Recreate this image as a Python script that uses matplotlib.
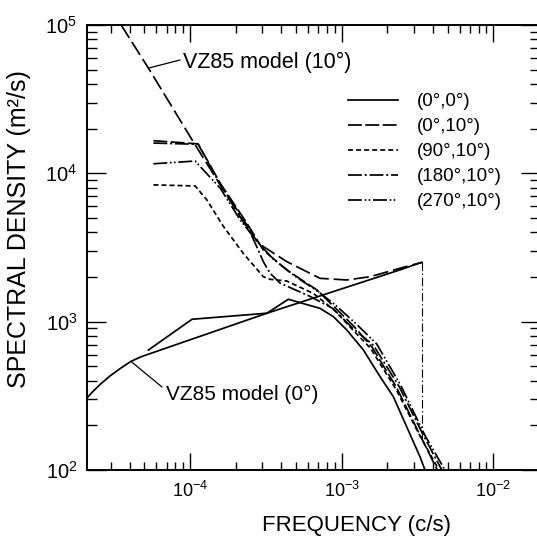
import matplotlib
matplotlib.use('Agg')
import matplotlib.pyplot as plt
from matplotlib.ticker import LogLocator, NullFormatter, LogFormatterSciNotation
from matplotlib.lines import Line2D

plt.rcParams['font.family'] = ['Liberation Sans', 'DejaVu Sans']
plt.rcParams['mathtext.fontset'] = 'custom'
plt.rcParams['mathtext.rm'] = 'Liberation Sans'
plt.rcParams['mathtext.it'] = 'Liberation Sans:italic'
plt.rcParams['mathtext.bf'] = 'Liberation Sans:bold'
plt.rcParams['mathtext.default'] = 'regular'
plt.rcParams['lines.scale_dashes'] = False

# ---------------- data ----------------
# VZ85 model, 10 degrees
model10_f = [3.51e-5, 5.31e-5, 1.07e-4, 2.24e-4, 2.75e-4, 3.04e-4, 4.34e-4, 7.19e-4, 1.08e-3, 1.54e-3, 2.42e-3, 3.37e-3]
model10_S = [1.0e5, 5.12e4, 1.58e4, 4.72e3, 3.51e3, 3.21e3, 2.54e3, 1.96e3, 1.91e3, 2.01e3, 2.29e3, 2.51e3]
# VZ85 model, 0 degrees
model0_f = [2.08e-5, 2.29e-5, 2.57e-5, 2.95e-5, 3.47e-5, 4.07e-5, 4.79e-5, 3.21e-4, 2.42e-3, 3.37e-3]
model0_S = [304, 339, 380, 429, 484, 540, 582, 1140, 2234, 2512]
# high-frequency cutoff of the models
cutoff_f = [3.37e-3, 3.37e-3]
cutoff_S = [2512, 160]

# measured spectra
s00_f = [5.31e-5, 1.03e-4, 3.21e-4, 4.45e-4, 5.31e-4, 7.19e-4, 8.81e-4, 1.08e-3, 1.39e-3, 1.79e-3, 2.19e-3, 3.28e-3, 3.54e-3]
s00_S = [644, 1038, 1140, 1416, 1343, 1230, 1081, 879, 644, 426, 312, 123, 100]

s010_f = [5.73e-5, 1.13e-4, 1.58e-4, 2.37e-4, 3.04e-4, 4.34e-4, 6.84e-4, 8.91e-4, 1.2e-3, 1.58e-3, 2.29e-3, 3.16e-3, 4.27e-3]
s010_S = [1.66e4, 1.58e4, 8.57e3, 4.61e3, 3.04e3, 2.23e3, 1.64e3, 1.26e3, 933, 676, 363, 186, 100]

s9010_f = [5.73e-5, 1.08e-4, 1.29e-4, 1.66e-4, 2.24e-4, 3.04e-4, 3.37e-4, 4.34e-4, 6.5e-4, 8.91e-4, 1.17e-3, 1.55e-3, 2.29e-3, 3.24e-3, 4.37e-3]
s9010_S = [8.36e3, 8.22e3, 6.62e3, 4.38e3, 2.89e3, 2.01e3, 1.93e3, 1.88e3, 1.55e3, 1.2e3, 891, 661, 347, 174, 100]

s18010_f = [5.73e-5, 1.13e-4, 1.58e-4, 2.34e-4, 2.75e-4, 3.04e-4, 3.37e-4, 3.92e-4, 6.18e-4, 8.71e-4, 1.17e-3, 1.62e-3, 2.4e-3, 3.39e-3, 4.57e-3]
s18010_S = [1.6e4, 1.57e4, 8.41e3, 4.57e3, 3.21e3, 2.54e3, 2.12e3, 1.82e3, 1.48e3, 1.23e3, 912, 692, 363, 178, 100]

s27010_f = [5.73e-5, 1.08e-4, 1.58e-4, 2.14e-4, 2.82e-4, 3.55e-4, 5.01e-4, 7.08e-4, 9.12e-4, 1.26e-3, 1.7e-3, 2.45e-3, 3.55e-3, 4.79e-3]
s27010_S = [1.16e4, 1.21e4, 7.94e3, 4.85e3, 3.39e3, 2.63e3, 2.0e3, 1.58e3, 1.29e3, 955, 708, 372, 170, 100]

legend_labels = ['(0°,0°)', '(0°,10°)', '(90°,10°)', '(180°,10°)', '(270°,10°)']

# ---------------- styles ----------------
LW = 1.25
st_solid = dict(color='black', lw=LW, linestyle='-')
st_long = dict(color='black', lw=LW, linestyle=(0, (10, 2.5)))
st_short = dict(color='black', lw=LW, linestyle=(0, (3.6, 2.2)))
st_dashdot = dict(color='black', lw=LW, linestyle=(0, (10, 2, 1.5, 2)))
st_dashdotdot = dict(color='black', lw=LW, linestyle=(0, (10, 2, 1.2, 1.6, 1.2, 2)))
st_model10 = dict(color='black', lw=LW, linestyle=(0, (11, 3.5)))

W, H = 537, 541
fig = plt.figure(figsize=(W / 100, H / 100), dpi=100)
ax = fig.add_axes([87 / W, (H - 470) / H, 453 / W, 445 / H])

ax.set_xscale('log')
ax.set_yscale('log')
ax.set_xlim(2.09e-5, 2.03e-2)
ax.set_ylim(1e2, 1e5)

# models
ax.plot(model10_f, model10_S, **st_model10)
ax.plot(model0_f, model0_S, **st_solid)
ax.plot(cutoff_f, cutoff_S, color='black', lw=0.8, linestyle=(0, (6, 2, 1, 2)))

# measured spectra
ax.plot(s00_f, s00_S, **st_solid)
ax.plot(s010_f, s010_S, **st_long)
ax.plot(s9010_f, s9010_S, **st_short)
ax.plot(s18010_f, s18010_S, **st_dashdot)
ax.plot(s27010_f, s27010_S, **st_dashdotdot)

# legend
handles = [Line2D([], [], **s) for s in (st_solid, st_long, st_short, st_dashdot, st_dashdotdot)]
leg = ax.legend(handles, legend_labels, loc='upper left',
                bbox_to_anchor=((348 - 87) / 453, (470 - 93) / 445),
                frameon=False, fontsize=13.5, handlelength=2.67, handletextpad=0.98,
                labelspacing=0.42, borderpad=0, borderaxespad=0)

# annotations
ax.text((183 - 87) / 453, (470 - 68) / 445, 'VZ85 model (10°)', transform=ax.transAxes,
        fontsize=15.5, va='baseline', ha='left')
ax.annotate('', xy=(model10_f[1], model10_S[1]), xycoords='data',
            xytext=((180 - 87) / 453, (470 - 60) / 445), textcoords='axes fraction',
            arrowprops=dict(arrowstyle='-', lw=0.9, color='black', shrinkA=0, shrinkB=0))

ax.text((166 - 87) / 453, (470 - 400) / 445, 'VZ85 model (0°)', transform=ax.transAxes,
        fontsize=15, va='baseline', ha='left')
ax.annotate('', xy=(model0_f[5], model0_S[5]), xycoords='data',
            xytext=((162 - 87) / 453, (470 - 387) / 445), textcoords='axes fraction',
            arrowprops=dict(arrowstyle='-', lw=0.9, color='black', shrinkA=0, shrinkB=0))

# axes styling
for sp in ax.spines.values():
    sp.set_linewidth(1.4)
ax.xaxis.set_major_locator(LogLocator(base=10, numticks=10))
ax.xaxis.set_minor_locator(LogLocator(base=10, subs=range(2, 10), numticks=20))
ax.yaxis.set_major_locator(LogLocator(base=10, numticks=10))
ax.yaxis.set_minor_locator(LogLocator(base=10, subs=range(2, 10), numticks=20))
ax.xaxis.set_major_formatter(LogFormatterSciNotation())
ax.yaxis.set_major_formatter(LogFormatterSciNotation())
ax.xaxis.set_minor_formatter(NullFormatter())
ax.yaxis.set_minor_formatter(NullFormatter())
ax.tick_params(axis='both', which='both', direction='in', top=True, right=True, width=1.0)
ax.tick_params(axis='x', which='major', length=12, pad=8, labelsize=13)
ax.tick_params(axis='x', which='minor', length=6)
ax.tick_params(axis='y', which='major', length=14, pad=7, labelsize=14.5)
ax.tick_params(axis='y', which='minor', length=7.5)

ax.set_xlabel('FREQUENCY (c/s)', fontsize=16)
ax.set_ylabel('SPECTRAL DENSITY (m²/s)', fontsize=18)
ax.xaxis.set_label_coords((356 - 87) / 453, -(525 - 470) / 445)
ax.yaxis.set_label_coords(-(87 - 19) / 453, (470 - 229) / 445)
ax.xaxis.label.set_va('center')
ax.yaxis.label.set_va('center')

fig.savefig('out.png', dpi=100)
